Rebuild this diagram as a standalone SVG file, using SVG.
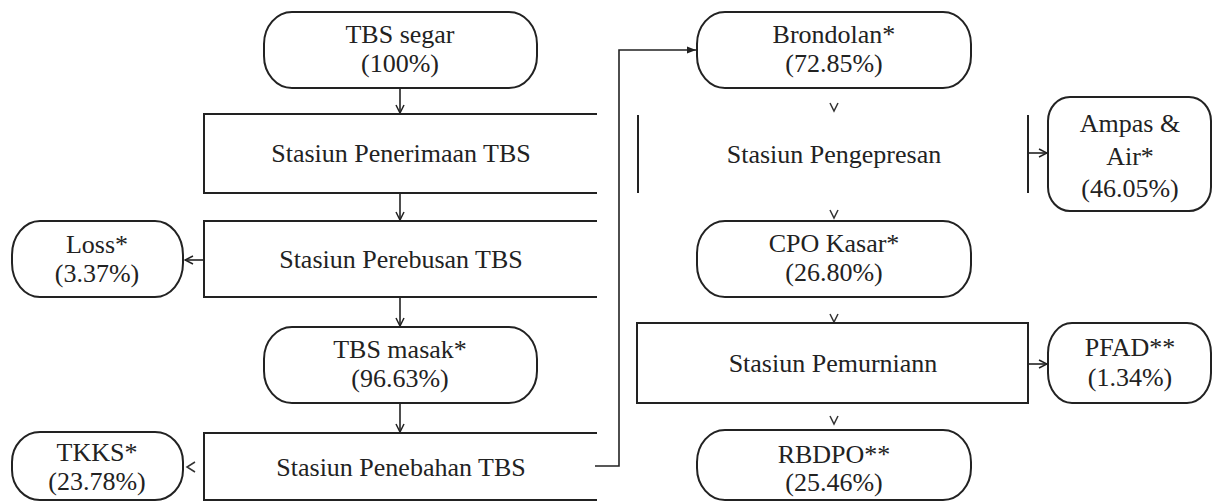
<svg xmlns="http://www.w3.org/2000/svg" width="1213" height="502" viewBox="0 0 1213 502">
  <style>
    .box { fill: #fff; stroke: #222; stroke-width: 2; }
    .edge { fill: none; stroke: #222; stroke-width: 2; }
    .conn { fill: none; stroke: #222; stroke-width: 1.6; }
    .chev { fill: none; stroke: #333; stroke-width: 1.5; }
    .lbl { font-family: "Liberation Serif", "Times New Roman", serif; font-size: 26px; fill: #222; text-anchor: middle; }
  </style>
  <defs>
    <marker id="open" viewBox="0 0 10 10" refX="9" refY="5" markerWidth="10" markerHeight="10" markerUnits="userSpaceOnUse" orient="auto">
      <path d="M1,1 L9,5 L1,9" fill="none" stroke="#222" stroke-width="1.5"/>
    </marker>
    <marker id="solid" viewBox="0 0 10 10" refX="10" refY="5" markerWidth="11" markerHeight="9" markerUnits="userSpaceOnUse" orient="auto">
      <path d="M0,1 L10,5 L0,9 Z" fill="#222"/>
    </marker>
  </defs>
  <rect width="1213" height="502" fill="#fff"/>

  <g id="connectors">
    <path class="conn" d="M400,88 V113" marker-end="url(#open)"/>
    <path class="conn" d="M400,193 V220" marker-end="url(#open)"/>
    <path class="conn" d="M204,260 H185" marker-end="url(#open)"/>
    <path class="conn" d="M400,297 V326" marker-end="url(#open)"/>
    <path class="conn" d="M400,403 V432" marker-end="url(#open)"/>
    <path class="chev" d="M195,462 L187,467 L195,472"/>
    <path class="conn" d="M595,466 H619 V50 H696" marker-end="url(#solid)"/>
    <path class="chev" d="M830,103 L834,111 L838,103"/>
    <path class="chev" d="M830,210 L834,218 L838,210"/>
    <path class="chev" d="M830,314 L834,322 L838,314"/>
    <path class="chev" d="M830,416 L834,424 L838,416"/>
    <path class="conn" d="M1028,153 H1047" marker-end="url(#open)"/>
    <path class="conn" d="M1028,364 H1047" marker-end="url(#open)"/>
  </g>

  <g id="tbs-segar">
    <rect class="box" x="264" y="12" width="273" height="76" rx="28" ry="32"/>
    <text class="lbl" x="400" y="43">TBS segar</text>
    <text class="lbl" x="400" y="72">(100%)</text>
  </g>
  <g id="stasiun-penerimaan">
    <path class="edge" d="M597,114 H204 V193 H597"/>
    <text class="lbl" x="401" y="162">Stasiun Penerimaan TBS</text>
  </g>
  <g id="stasiun-perebusan">
    <path class="edge" d="M597,221 H204 V297 H597"/>
    <text class="lbl" x="401" y="268">Stasiun Perebusan TBS</text>
  </g>
  <g id="loss">
    <rect class="box" x="12" y="221" width="171" height="76" rx="28" ry="34"/>
    <text class="lbl" x="97" y="253">Loss*</text>
    <text class="lbl" x="97" y="282">(3.37%)</text>
  </g>
  <g id="tbs-masak">
    <rect class="box" x="264" y="327" width="273" height="76" rx="28" ry="32"/>
    <text class="lbl" x="400" y="358">TBS masak*</text>
    <text class="lbl" x="400" y="387">(96.63%)</text>
  </g>
  <g id="stasiun-penebahan">
    <path class="edge" d="M597,433 H204 V500 H597"/>
    <text class="lbl" x="401" y="476">Stasiun Penebahan TBS</text>
  </g>
  <g id="tkks">
    <rect class="box" x="12" y="432" width="171" height="68" rx="28" ry="30"/>
    <text class="lbl" x="97" y="461">TKKS*</text>
    <text class="lbl" x="97" y="490">(23.78%)</text>
  </g>
  <g id="brondolan">
    <rect class="box" x="697" y="12" width="274" height="76" rx="28" ry="32"/>
    <text class="lbl" x="834" y="43">Brondolan*</text>
    <text class="lbl" x="834" y="72">(72.85%)</text>
  </g>
  <g id="stasiun-pengepresan">
    <path class="edge" d="M638,115 V193 M1028,115 V193"/>
    <text class="lbl" x="834" y="163">Stasiun Pengepresan</text>
  </g>
  <g id="ampas-air">
    <rect class="box" x="1048" y="97" width="163" height="114" rx="22" ry="24"/>
    <text class="lbl" x="1130" y="132">Ampas &amp;</text>
    <text class="lbl" x="1130" y="165">Air*</text>
    <text class="lbl" x="1130" y="197">(46.05%)</text>
  </g>
  <g id="cpo-kasar">
    <rect class="box" x="697" y="221" width="274" height="76" rx="28" ry="32"/>
    <text class="lbl" x="834" y="252">CPO Kasar*</text>
    <text class="lbl" x="834" y="281">(26.80%)</text>
  </g>
  <g id="stasiun-pemurnian">
    <rect class="box" x="637" y="323" width="391" height="80"/>
    <text class="lbl" x="833" y="372">Stasiun Pemurniann</text>
  </g>
  <g id="pfad">
    <rect class="box" x="1048" y="323" width="163" height="80" rx="24" ry="30"/>
    <text class="lbl" x="1130" y="356">PFAD**</text>
    <text class="lbl" x="1130" y="386">(1.34%)</text>
  </g>
  <g id="rbdpo">
    <rect class="box" x="697" y="430" width="274" height="70" rx="28" ry="32"/>
    <text class="lbl" x="834" y="463">RBDPO**</text>
    <text class="lbl" x="834" y="491">(25.46%)</text>
  </g>
</svg>
